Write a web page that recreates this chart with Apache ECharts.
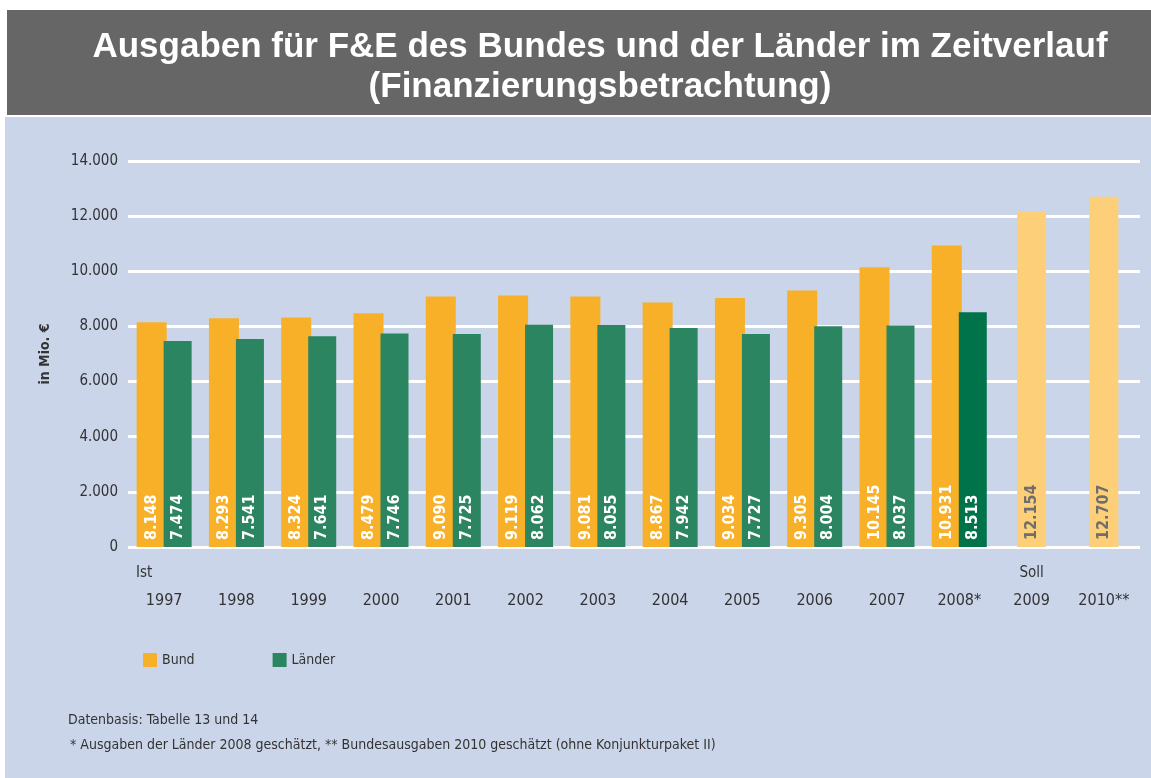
<!DOCTYPE html>
<html>
<head>
<meta charset="utf-8">
<script src="https://cdn.jsdelivr.net/npm/echarts@6/dist/echarts.min.js"></script>
<style>
  html, body { margin: 0; padding: 0; background: #fff; }
  #chart { width: 1151px; height: 778px; }
</style>
</head>
<body>
<div id="chart"></div>
<script>
// Daten (in Mio. €)
const years = ['1997', '1998', '1999', '2000', '2001', '2002', '2003', '2004', '2005', '2006', '2007', '2008*', '2009', '2010**']
const phase = ['Ist', '', '', '', '', '', '', '', '', '', '', '', 'Soll', '']
const bund = [8148, 8293, 8324, 8479, 9090, 9119, 9081, 8867, 9034, 9305, 10145, 10931, null, null]
const laender = [7474, 7541, 7641, 7746, 7725, 8062, 8055, 7942, 7727, 8004, 8037, 8513, null, null]
const bundSoll = [null, null, null, null, null, null, null, null, null, null, null, null, 12154, 12707]
const laenderGeschaetzt = [false, false, false, false, false, false, false, false, false, false, false, true, false, false]
const yTicks = [0, 2000, 4000, 6000, 8000, 10000, 12000, 14000]

const fmt = (v) => String(v).replace(/\B(?=(\d{3})+(?!\d))/g, '.')

const barFont = "'DejaVu Sans Condensed', 'Liberation Sans Narrow', 'Noto Sans', sans-serif"
const textFont = "'DejaVu Sans Condensed', 'Noto Sans', sans-serif"

const chart = echarts.init(document.getElementById('chart'))

// Beschriftung innerhalb der Balken (gedreht)
const barLabel = (color) => ({
  show: true,
  position: 'insideBottom',
  rotate: 90,
  align: 'left',
  verticalAlign: 'middle',
  distance: 7,
  color: color,
  fontFamily: barFont,
  fontWeight: 'bold',
  fontSize: 16,
  formatter: (p) => fmt(p.value)
})

const option = {
  backgroundColor: '#ffffff',
  animation: false,
  title: {
    text: 'Ausgaben für F&E des Bundes und der Länder im Zeitverlauf\n(Finanzierungsbetrachtung)',
    left: 595,
    top: 22,
    textAlign: 'center',
    textStyle: {
      color: '#ffffff',
      fontFamily: "'Liberation Sans', Arial, sans-serif",
      fontWeight: 'bold',
      fontSize: 35,
      lineHeight: 40
    }
  },
  graphic: [
    // Titelband und Hintergrundfläche
    { type: 'rect', z: -10, shape: { x: 7, y: 10, width: 1144, height: 105 }, style: { fill: '#666666' } },
    { type: 'rect', z: -10, shape: { x: 5, y: 117, width: 1146, height: 661 }, style: { fill: '#cad5e9' } },
    {
      type: 'text', left: 68, top: 713,
      style: { text: 'Datenbasis: Tabelle 13 und 14', fill: '#333', font: '14px ' + textFont }
    },
    {
      type: 'text', left: 70, top: 738,
      style: {
        text: '* Ausgaben der Länder 2008 geschätzt, ** Bundesausgaben 2010 geschätzt (ohne Konjunkturpaket II)',
        fill: '#333', font: '14px ' + textFont
      }
    }
  ],
  legend: {
    left: 138,
    top: 648,
    itemWidth: 14,
    itemHeight: 14,
    itemGap: 78,
    icon: 'rect',
    data: ['Bund', 'Länder'],
    textStyle: { color: '#333', fontSize: 14, fontFamily: textFont }
  },
  grid: {
    left: 128,
    right: 11,
    top: 161,
    height: 386
  },
  xAxis: [
    {
      type: 'category',
      data: years,
      axisLine: { show: false },
      axisTick: { show: false },
      axisLabel: {
        interval: 0,
        margin: 12,
        color: '#333',
        fontSize: 15,
        fontFamily: textFont,
        formatter: (v, i) => {
          const top = phase[i] === 'Ist' ? '{ist|Ist}' : '{p|' + (phase[i] || ' ') + '}'
          return top + '\n{y|' + v + '}'
        },
        rich: {
          ist: { fontSize: 15, fontFamily: textFont, color: '#333', lineHeight: 28, padding: [0, 40, 0, 0] },
          p: { fontSize: 15, fontFamily: textFont, color: '#333', lineHeight: 28 },
          y: { fontSize: 16, fontFamily: textFont, color: '#333', lineHeight: 28 }
        }
      }
    },
    { type: 'category', data: years, show: false }
  ],
  yAxis: {
    type: 'value',
    min: 0,
    max: 14000,
    interval: 2000,
    name: 'in Mio. €',
    nameLocation: 'middle',
    nameGap: 76,
    nameRotate: 90,
    nameTextStyle: { color: '#333', fontSize: 14, fontWeight: 'bold', fontFamily: textFont },
    axisLine: { show: false },
    axisTick: { show: false },
    axisLabel: {
      margin: 10,
      color: '#333',
      fontSize: 15,
      fontFamily: textFont,
      formatter: (v) => (yTicks.includes(v) ? fmt(v) : '')
    },
    splitLine: { lineStyle: { color: '#ffffff', width: 3 } }
  },
  series: [
    {
      name: 'Bund',
      type: 'bar',
      barWidth: 30,
      barGap: '-10%',
      itemStyle: { color: '#f7b027' },
      label: barLabel('#ffffff'),
      data: bund
    },
    {
      name: 'Länder',
      type: 'bar',
      barWidth: 28,
      itemStyle: { color: '#2b8560' },
      label: barLabel('#ffffff'),
      data: laender.map((v, i) => (laenderGeschaetzt[i] ? { value: v, itemStyle: { color: '#00734a' } } : v))
    },
    {
      name: 'Bund (Soll)',
      type: 'bar',
      xAxisIndex: 1,
      barWidth: 29,
      itemStyle: { color: '#fdcf78' },
      label: barLabel('#6e6e6e'),
      data: bundSoll
    }
  ]
}

chart.setOption(option)
</script>
</body>
</html>
